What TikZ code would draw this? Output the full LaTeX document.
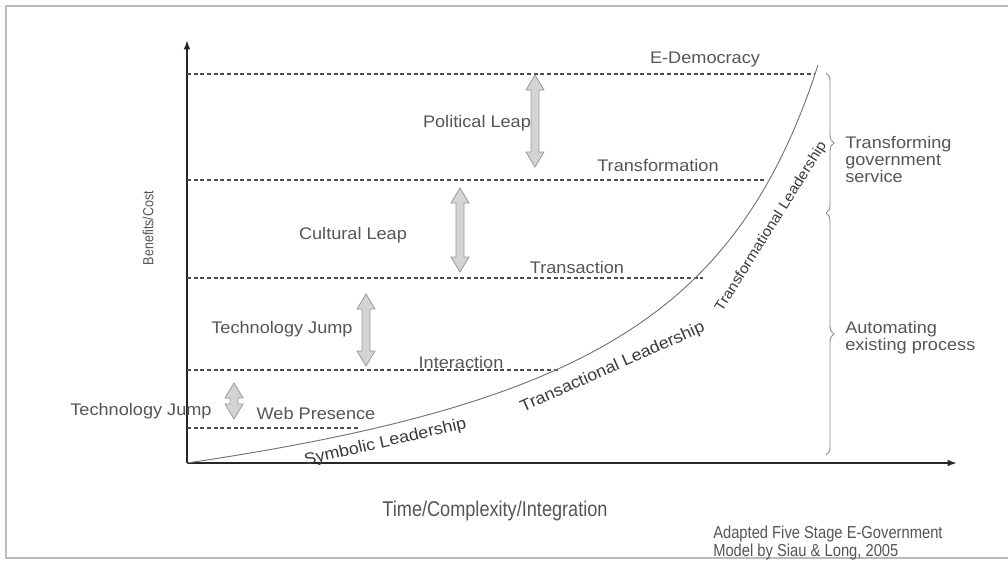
\documentclass[tikz,border=0pt]{standalone}
\usepackage{fontspec}
\setmainfont[FakeStretch=1.08]{Liberation Sans}
\newfontfamily\narrowfont[FakeStretch=0.85]{Liberation Sans}
\usetikzlibrary{arrows.meta,decorations.pathreplacing}
\definecolor{labelgray}{HTML}{555555}
\definecolor{curvetext}{HTML}{3A3A3A}
\definecolor{framegray}{HTML}{BBBBBB}
\definecolor{arrowfill}{HTML}{D4D4D4}
\definecolor{arrowline}{HTML}{9A9A9A}
\begin{document}
\begin{tikzpicture}[x=0.75pt,y=-0.75pt,
  lbl/.style={text=labelgray, font=\fontsize{12.6}{12.9}\selectfont, inner sep=0pt, text height=9pt, text depth=0pt},
  curvelbl/.style={text=curvetext, font=\fontsize{12.4}{12.9}\selectfont, inner sep=0pt, text height=9pt, text depth=0pt},
  sidelbl/.style={text=labelgray, font=\fontsize{12.6}{12.9}\selectfont, inner sep=0pt, align=left, anchor=north west},
  axislbl/.style={text=labelgray, font=\narrowfont\fontsize{16}{17}\selectfont, inner sep=0pt, text height=11pt, text depth=0pt},
  notelbl/.style={text=labelgray, font=\narrowfont\fontsize{13}{11.2}\selectfont, inner sep=0pt, align=left, anchor=north west},
  axis/.style={draw=black!85, line width=1.3pt, -{Latex[length=7pt,width=5pt]}},
  level/.style={draw=black!70, line width=0.8pt, dash pattern=on 3pt off 2pt},
  curve/.style={draw=black!55, line width=0.7pt},
  bracestyle/.style={draw=black!45, line width=0.7pt, decorate, decoration={brace, amplitude=6pt}},
  leap/.style={draw=arrowline, fill=arrowfill, line width=0.6pt, line join=miter},
  framestyle/.style={draw=framegray, line width=1.2pt}
]
\useasboundingbox (0,0) rectangle (1008,561);
% frame
\draw[framestyle] (1008,6) -- (6,6) -- (6,558) -- (1008,558);

% axes
\coordinate (O) at (187,463);
\coordinate (ytip) at (187,40);
\coordinate (xtip) at (957,463);
\draw[axis] (O) -- (ytip);
\draw[axis] (O) -- (xtip);

% level lines
\coordinate (d1a) at (187,74);  \coordinate (d1b) at (815,74);
\coordinate (d2a) at (187,180); \coordinate (d2b) at (767,180);
\coordinate (d3a) at (187,278); \coordinate (d3b) at (703,278);
\coordinate (d4a) at (187,370); \coordinate (d4b) at (560,370);
\coordinate (d5a) at (187,428); \coordinate (d5b) at (358,428);
\foreach \a/\b in {d1a/d1b,d2a/d2b,d3a/d3b,d4a/d4b,d5a/d5b}
  \draw[level] (\a) -- (\b);

% curve (smooth growth curve)
\draw[curve] plot[domain=0:631, samples=120, smooth] ({187+\x}, {463 - (92.5*(\x/(785-\x)) + 0.03*\x)});

% double arrows
\newcommand\leaparrow[3]{%
  \draw[leap] (#1,#2) -- (#1+9,#2+15) -- (#1+4,#2+15) -- (#1+4,#3-15) -- (#1+9,#3-15)
    -- (#1,#3) -- (#1-9,#3-15) -- (#1-4,#3-15) -- (#1-4,#2+15) -- (#1-9,#2+15) -- cycle;}
\leaparrow{535}{75}{167}
\leaparrow{460}{188}{272}
\leaparrow{366}{294}{366}
\leaparrow{234}{383}{419}

% labels
\node[lbl] (edem) at (705,57) {E-Democracy};
\node[lbl] (pol) at (477,121) {Political Leap};
\node[lbl] (trf) at (658,165) {Transformation};
\node[lbl] (cul) at (353,233) {Cultural Leap};
\node[lbl] (trs) at (577,267) {Transaction};
\node[lbl] (tj1) at (282,327) {Technology Jump};
\node[lbl] (int) at (461,362) {Interaction};
\node[lbl] (tj2) at (141,409) {Technology Jump};
\node[lbl] (web) at (316,413) {Web Presence};

% curve labels
\node[curvelbl, rotate=13] (sym) at (385,441) {Symbolic Leadership};
\node[curvelbl, rotate=24] (tsa) at (612,366) {Transactional Leadership};
\node[curvelbl, rotate=58, font=\fontsize{10.8}{12}\selectfont, text height=8pt] (tsf) at (770,226) {Transformational Leadership};

% braces
\coordinate (b1) at (826,73);
\coordinate (b2) at (826,213);
\coordinate (b3) at (826,455);
\draw[bracestyle] (b1) -- (b2);
\draw[bracestyle] (b2) -- (b3);
\node[sidelbl] (tgs) at (845,136) {Transforming\\government\\service};
\node[sidelbl] (aep) at (845,321) {Automating\\existing process};

% axis labels
\node[axislbl] (xl) at (495,509) {Time/Complexity/Integration};
\node[axislbl, rotate=90, font=\narrowfont\fontsize{11}{12}\selectfont, text height=8pt] (yl) at (148,228) {Benefits/Cost};
\node[notelbl] (src) at (713,526) {Adapted Five Stage E-Government\\Model by Siau \& Long, 2005};
\end{tikzpicture}
\end{document}
